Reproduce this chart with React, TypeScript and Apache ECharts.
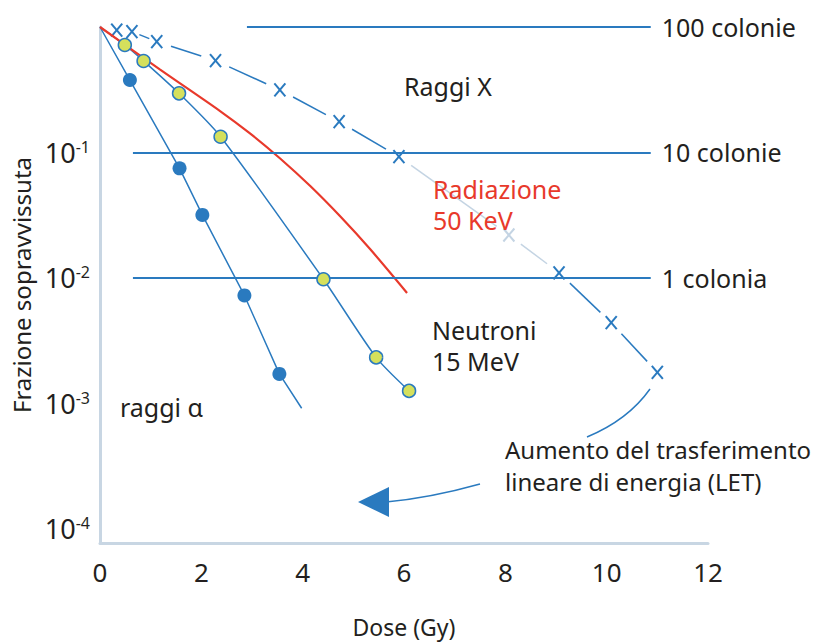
import React, { useEffect, useRef } from 'react';
import * as echarts from 'echarts';

// ---- data ----
const alphaDose = [0.59, 1.57, 2.02, 2.85, 3.54];
const alphaSurv = [0.378, 0.0748, 0.0318, 0.00726, 0.00172];
const alphaFitDose = [0, 0.59, 1.57, 2.02, 2.85, 3.54, 3.98];
const alphaFitSurv = [1, 0.378, 0.0748, 0.0318, 0.00726, 0.00172, 0.000916];

const neutronDose = [0.49, 0.86, 1.56, 2.38, 4.41, 5.45, 6.1];
const neutronSurv = [0.719, 0.536, 0.296, 0.1336, 0.00977, 0.00233, 0.00126];
const neutronFitDose = [0, 0.49, 0.86, 1.56, 2.38, 4.41, 5.45, 6.1];
const neutronFitSurv = [1, 0.719, 0.536, 0.296, 0.1336, 0.00977, 0.00233, 0.00126];

const kevDose = [0, 1.18, 2.37, 2.96, 3.55, 4.15, 4.74, 5.33, 6.06];
const kevSurv = [1, 0.46, 0.214, 0.142, 0.09, 0.054, 0.031, 0.017, 0.0076];

const xrayDose = [0.33, 0.63, 1.12, 2.28, 3.55, 4.72, 5.9, 8.07, 9.06, 10.09, 11.0];
const xraySurv = [0.946, 0.918, 0.764, 0.539, 0.315, 0.176, 0.0926, 0.022, 0.011, 0.0044, 0.00177];
const xrayFaded = [false, false, false, false, false, false, false, true, false, false, false];

const thresholdSurv = [1, 0.1, 0.01];
const thresholdStart = [2.9, 0.65, 0.65];
const thresholdEnd = [10.87, 10.87, 10.87];
const thresholdLabels = ['100 colonie', '10 colonie', '1 colonia'];

const xTicks = [0, 2, 4, 6, 8, 10, 12];

// ---- styles ----
const BLUE = '#2a7abf';
const LIGHT = '#c4d4e3';
const RED = '#e8392b';
const YELLOW = '#d5e05c';
const TEXT = '#231f20';
const AXIS = '#c8d6e3';
const FONT = '"Noto Sans", "Open Sans", sans-serif';

export default function App() {
  const ref = useRef<HTMLDivElement>(null);

  useEffect(() => {
    if (!ref.current) return;
    const chart = echarts.init(ref.current, null, { renderer: 'svg' });

    const xrayData = xrayDose.map((d, i) => [d, xraySurv[i]]);

    const option: any = {
      animation: false,
      grid: { left: 100, right: 123, top: 27, bottom: 100, containLabel: false },
      xAxis: {
        type: 'value',
        min: xTicks[0],
        max: xTicks[xTicks.length - 1],
        interval: 2,
        name: 'Dose (Gy)',
        nameLocation: 'middle',
        nameGap: 72,
        nameTextStyle: { fontSize: 23, color: TEXT, fontFamily: FONT },
        axisLine: { show: true, lineStyle: { color: AXIS, width: 3 } },
        axisTick: { show: false },
        splitLine: { show: false },
        axisLabel: { fontSize: 26, color: TEXT, fontFamily: FONT, margin: 16 },
      },
      yAxis: {
        type: 'log',
        logBase: 10,
        min: 0.0000773,
        max: 1,
        name: 'Frazione sopravvissuta',
        nameLocation: 'middle',
        nameGap: 63,
        nameTextStyle: { fontSize: 24, color: TEXT, fontFamily: FONT },
        axisLine: { show: true, lineStyle: { color: AXIS, width: 3 } },
        axisTick: { show: false },
        splitLine: { show: false },
        axisLabel: {
          margin: 10,
          showMinLabel: false,
          formatter: (v: number) => {
            const e = Math.log10(v);
            const r = Math.round(e);
            if (Math.abs(e - r) > 1e-6 || r >= 0) return '';
            return `{b|10}{s|${r}}`;
          },
          rich: {
            b: { fontSize: 27, color: TEXT, fontFamily: FONT },
            s: { fontSize: 16, color: TEXT, fontFamily: FONT, verticalAlign: 'top' },
          },
        },
      },
      series: [
        {
          type: 'line',
          name: 'soglie',
          data: [],
          z: 1,
          clip: false,
          silent: true,
          markLine: {
            silent: true,
            symbol: ['none', 'none'],
            lineStyle: { color: BLUE, width: 2, type: 'solid' },
            label: {
              show: true,
              position: 'end',
              distance: 11,
              formatter: '{b}',
              fontSize: 25,
              color: TEXT,
              fontFamily: FONT,
            },
            data: thresholdSurv.map((s, i) => [
              { name: thresholdLabels[i], coord: [thresholdStart[i], s] },
              { coord: [thresholdEnd[i], s] },
            ]),
          },
        },
        {
          type: 'line',
          name: 'alpha-fit',
          data: alphaFitDose.map((d, i) => [d, alphaFitSurv[i]]),
          showSymbol: false,
          symbol: 'none',
          z: 3,
          lineStyle: { color: BLUE, width: 1.5 },
        },
        {
          type: 'scatter',
          name: 'raggi α',
          data: alphaDose.map((d, i) => [d, alphaSurv[i]]),
          symbol: 'circle',
          symbolSize: 14,
          z: 5,
          itemStyle: { color: BLUE, opacity: 1 },
        },
        {
          type: 'line',
          name: 'neutroni-fit',
          data: neutronFitDose.map((d, i) => [d, neutronFitSurv[i]]),
          showSymbol: false,
          symbol: 'none',
          smooth: 0.25,
          z: 3,
          lineStyle: { color: BLUE, width: 1.5 },
        },
        {
          type: 'scatter',
          name: 'Neutroni 15 MeV',
          data: neutronDose.map((d, i) => [d, neutronSurv[i]]),
          symbol: 'circle',
          symbolSize: 13,
          z: 5,
          itemStyle: { color: YELLOW, borderColor: BLUE, borderWidth: 1.5, opacity: 1 },
        },
        {
          type: 'line',
          name: 'Radiazione 50 KeV',
          data: kevDose.map((d, i) => [d, kevSurv[i]]),
          showSymbol: false,
          symbol: 'none',
          smooth: 0.3,
          z: 4,
          lineStyle: { color: RED, width: 2.2 },
        },
        {
          type: 'custom',
          name: 'Raggi X',
          data: xrayData,
          z: 4,
          clip: false,
          renderItem: (params: any, api: any) => {
            const i = params.dataIndex;
            const p = api.coord([api.value(0), api.value(1)]);
            const c = xrayFaded[i] ? LIGHT : BLUE;
            const children: any[] = [
              {
                type: 'line',
                shape: { x1: p[0] - 5.5, y1: p[1] - 6.5, x2: p[0] + 5.5, y2: p[1] + 6.5 },
                style: { stroke: c, lineWidth: 2 },
              },
              {
                type: 'line',
                shape: { x1: p[0] + 5.5, y1: p[1] - 6.5, x2: p[0] - 5.5, y2: p[1] + 6.5 },
                style: { stroke: c, lineWidth: 2 },
              },
            ];
            if (i < xrayDose.length - 1) {
              const q = api.coord([xrayDose[i + 1], xraySurv[i + 1]]);
              const dx = q[0] - p[0];
              const dy = q[1] - p[1];
              const len = Math.hypot(dx, dy);
              const gap = Math.min(15, len * 0.3);
              const ux = dx / len;
              const uy = dy / len;
              const segColor = xrayFaded[i] || xrayFaded[i + 1] ? LIGHT : BLUE;
              if (len > 20) {
                children.push({
                  type: 'line',
                  shape: {
                    x1: p[0] + ux * gap,
                    y1: p[1] + uy * gap,
                    x2: q[0] - ux * gap,
                    y2: q[1] - uy * gap,
                  },
                  style: { stroke: segColor, lineWidth: 1.5 },
                });
              }
            }
            return { type: 'group', children };
          },
        },
      ],
      graphic: [
        {
          type: 'text',
          z: 100,
          left: 404,
          top: 73,
          style: { text: 'Raggi X', fontSize: 25, fill: TEXT, fontFamily: FONT },
        },
        {
          type: 'text',
          z: 100,
          left: 433,
          top: 173,
          style: {
            text: 'Radiazione\n50 KeV',
            fontSize: 25,
            lineHeight: 31,
            fill: RED,
            fontFamily: FONT,
          },
        },
        {
          type: 'text',
          z: 100,
          left: 432,
          top: 314,
          style: {
            text: 'Neutroni\n15 MeV',
            fontSize: 25,
            lineHeight: 31,
            fill: TEXT,
            fontFamily: FONT,
          },
        },
        {
          type: 'text',
          z: 100,
          left: 120,
          top: 394,
          style: { text: 'raggi α', fontSize: 25, fill: TEXT, fontFamily: FONT },
        },
        {
          type: 'text',
          z: 100,
          left: 505,
          top: 433,
          style: {
            text: 'Aumento del trasferimento\nlineare di energia (LET)',
            fontSize: 24,
            lineHeight: 32,
            fill: TEXT,
            fontFamily: FONT,
          },
        },
        {
          type: 'bezierCurve',
          z: 100,
          shape: { x1: 650, y1: 389, cpx1: 628, cpy1: 420, x2: 587, y2: 437 },
          style: { stroke: BLUE, lineWidth: 1.5, fill: 'none' },
        },
        {
          type: 'bezierCurve',
          z: 100,
          shape: { x1: 480, y1: 484, cpx1: 430, cpy1: 498, x2: 386, y2: 502 },
          style: { stroke: BLUE, lineWidth: 1.5, fill: 'none' },
        },
        {
          type: 'polygon',
          z: 100,
          shape: { points: [[358, 502], [389, 487], [389, 517]] },
          style: { fill: BLUE },
        },
      ],
    };

    chart.setOption(option);
    return () => chart.dispose();
  }, []);

  return (
    <div
      ref={ref}
      style={{ position: 'fixed', left: 0, top: 0, width: 831, height: 643, background: '#fff' }}
    />
  );
}
